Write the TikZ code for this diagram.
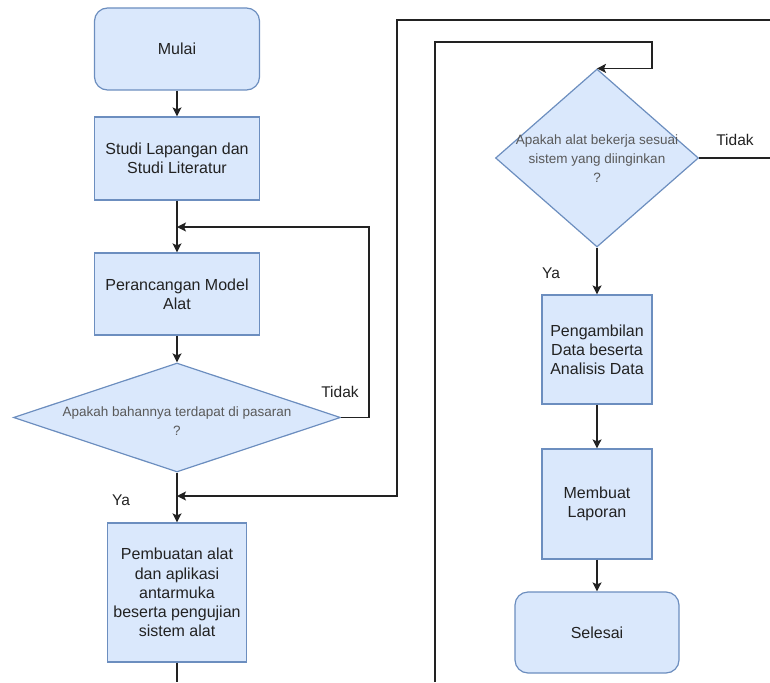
\documentclass[tikz,border=0pt]{standalone}
\usepackage{fontspec}
\setmainfont{Liberation Sans}
\usetikzlibrary{shapes.geometric,arrows.meta}
\definecolor{boxfill}{HTML}{DAE8FC}
\definecolor{boxline}{HTML}{6C8EBF}
\definecolor{linec}{HTML}{222222}
\definecolor{textc}{HTML}{222222}
\tikzset{
 proc/.style={draw=boxline, fill=boxfill, line width=1.2pt, inner sep=0pt, align=center,
   font=\fontsize{16}{19.2}\selectfont, text=textc},
 term/.style={proc, rounded corners=13pt},
 dec/.style={draw=boxline, fill=boxfill, line width=1.2pt, diamond, inner sep=0pt},
 dectext/.style={align=center, font=\fontsize{13.5}{19}\selectfont, text=textc!75, inner sep=0pt},
 flow/.style={draw=linec, line width=1.3pt, -{Stealth[length=9pt,width=9pt,inset=2pt]}},
 wire/.style={draw=linec, line width=1.3pt},
 lbl/.style={font=\fontsize{15.5}{18}\selectfont, text=textc, inner sep=0pt},
}
\begin{document}
\begin{tikzpicture}[x=1pt,y=-1pt]
\useasboundingbox (0,0) rectangle (770,682);
% left column
\node[term, minimum width=165pt, minimum height=82pt] (mulai) at (177,49) {Mulai};
\node[proc, minimum width=165pt, minimum height=83pt] (studi) at (177,158.5) {Studi Lapangan dan\\Studi Literatur};
\node[proc, minimum width=165pt, minimum height=82pt] (rancang) at (177,294) {Perancangan Model\\Alat};
\node[dec, minimum width=327pt, minimum height=109pt] (d1) at (177,417.5) {};
\node[dectext] (d1t) at (177,421) {Apakah bahannya terdapat di pasaran\\?};
\node[proc, minimum width=139pt, minimum height=139pt] (buat) at (177,592.5) {Pembuatan alat\\dan aplikasi\\antarmuka\\beserta pengujian\\sistem alat};
% right column
\node[dec, minimum width=203pt, minimum height=178pt] (d2) at (597,158) {};
\node[dectext] (d2t) at (597,159) {Apakah alat bekerja sesuai\\sistem yang diinginkan\\?};
\node[proc, minimum width=110pt, minimum height=109pt] (ambil) at (597,349.5) {Pengambilan\\Data beserta\\Analisis Data};
\node[proc, minimum width=110pt, minimum height=110pt] (lapor) at (597,504) {Membuat\\Laporan};
\node[term, minimum width=164pt, minimum height=81pt] (selesai) at (597,632.5) {Selesai};
% labels
\node[lbl] (tidak1) at (340,392) {Tidak};
\node[lbl] (ya1) at (121,500) {Ya};
\node[lbl] (tidak2) at (735,140) {Tidak};
\node[lbl] (ya2) at (551,273) {Ya};
% junctions and free ends
\coordinate (j1) at (177,227);
\coordinate (j2) at (177,496);
\coordinate (e1) at (770,20);
\coordinate (o1) at (397,496);
\coordinate (e2) at (435,682);
\coordinate (i1) at (652,42);
\coordinate (e3) at (770,158);
\coordinate (e4) at (177,682);
% connectors
\draw[flow] (mulai) -- (studi);
\draw[flow] (studi) -- (rancang);
\draw[flow] (rancang) -- (d1);
\draw[flow] (d1.east) -- ++(28,0) |- (j1);
\draw[flow] (d1.south) -- (buat);
\draw[flow] (e1) -| (o1) -- (j2);
\draw[wire] (buat.south) -- (e4);
\draw[flow] (e2) |- (i1) |- (d2.north);
\draw[wire] (d2.east) -- (e3);
\draw[flow] (d2.south) -- (ambil);
\draw[flow] (ambil) -- (lapor);
\draw[flow] (lapor) -- (selesai);
\end{tikzpicture}
\end{document}
